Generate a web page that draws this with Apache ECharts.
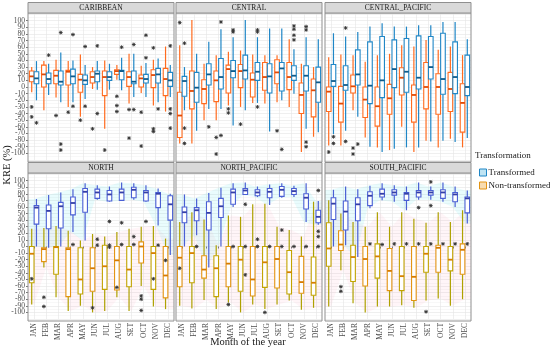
<!DOCTYPE html>
<html><head><meta charset="utf-8">
<script src="https://cdn.jsdelivr.net/npm/echarts@6/dist/echarts.min.js"></script>
<style>html,body{margin:0;padding:0;background:#fff}#c{width:550px;height:351px}</style>
</head><body><div id="c"></div>
<script>
const months = ['JAN','FEB','MAR','APR','MAY','JUN','JUL','AUG','SET','OCT','NOV','DEC'];
const panelNames = ['CARIBBEAN','CENTRAL','CENTRAL_PACIFIC','NORTH','NORTH_PACIFIC','SOUTH_PACIFIC'];
const yMin = -110, yMax = 110, yStep = 10;

// each month: [lower whisker, Q1, median, Q3, upper whisker]; outliers: [monthIndex, value]
const caribbeanNt = [[-8,8,16,24,30],[-35,0,19,33,39],[-16,5,17,25,41],[-30,3,23,25,39],[-45,-8,11,19,49],[-3,6,15,23,30],[-63,-13,15,24,40],[11,19,24,26,33],[-25,1,15,23,50],[-9,0,13,18,32],[-28,-1,18,26,41],[-37,-13,12,28,61]];
const caribbeanNtOut = [[0,-30],[0,-45],[2,-43],[3,-38],[4,-50],[5,-63],[6,-95],[7,-14],[7,-28],[7,-37],[8,-34],[8,-77],[9,-38],[9,-89],[10,59],[10,-63],[10,-67]];
const caribbeanTr = [[-20,5,13,23,39],[-12,5,12,21,35],[-23,3,8,24,52],[-23,5,16,27,40],[-18,4,10,18,33],[-4,8,20,24,39],[-4,10,15,23,35],[-5,11,24,25,44],[-15,5,8,24,50],[-15,6,12,19,36],[-23,6,19,28,43],[-15,1,10,22,33]];
const caribbeanTrOut = [[0,-54],[1,48],[2,82],[2,-86],[2,-95],[3,79],[3,-29],[4,61],[4,-29],[5,62],[5,-40],[7,60],[8,64],[8,-34],[9,78],[9,44],[10,-33],[11,62],[11,-33],[11,-40],[11,-62]];

const centralNt = [[-85,-76,-43,-8,63],[-85,-33,-6,24,101],[-50,-25,-3,11,35],[-50,-22,10,24,48],[-28,-9,27,33,53],[-30,-1,24,34,55],[-24,-15,11,21,49],[-25,-5,15,37,48],[-23,5,22,41,48],[-30,-4,15,37,72],[-98,-40,-12,6,35],[-75,-45,-5,12,30]];
const centralNtOut = [[0,97],[3,-76],[3,-101],[4,-33],[4,-39],[5,-56],[8,-66]];
const centralTr = [[-35,-14,9,16,30],[-66,-23,-1,22,50],[-33,3,19,35,68],[-33,-3,15,43,87],[-58,14,24,40,75],[-35,12,25,48,101],[-24,10,23,37,75],[-67,-9,16,35,88],[-20,-6,28,37,88],[-10,10,17,32,57],[-63,-6,17,32,75],[-68,-23,7,30,72]];
const centralTrOut = [[0,66],[0,-62],[0,-85],[2,-60],[3,98],[3,-73],[4,83],[4,86],[6,83],[6,86],[6,-30],[8,-94],[9,92],[9,87],[9,78],[9,71],[10,86],[10,91],[10,-83],[10,-90]];

const centralPacificNt = [[-88,-37,-7,0,45],[-88,-53,-25,1,49],[-35,-9,1,18,48],[-76,-46,-19,0,38],[-91,-59,-29,0,48],[-95,-41,-17,4,50],[-60,-12,14,29,63],[-98,-53,-12,3,61],[-81,-33,0,37,71],[-91,-41,0,20,56],[-78,-37,-3,22,61],[-91,-68,-24,5,48]];
const centralPacificNtOut = [[0,-98],[2,-92],[2,-101]];
const centralPacificTr = [[-71,1,9,34,81],[-66,-5,3,32,76],[-45,3,19,56,83],[-90,-25,2,68,91],[-98,-16,10,76,96],[-93,-1,27,71,91],[-91,-8,23,73,91],[-91,-3,14,77,93],[-82,12,30,76,93],[-81,-11,12,81,98],[-83,-10,15,68,98],[-77,-13,0,48,72]];
const centralPacificTrOut = [[0,-75],[0,-85],[1,89],[1,-82],[2,-86]];

const northNt = [[-88,-55,-11,0,27],[-32,-23,-4,-2,28],[-77,-42,-1,0,31],[-98,-76,-4,-2,24],[-90,-72,-50,-2,9],[-100,-68,-33,-2,19],[-98,-65,-30,2,15],[-77,-66,-21,0,22],[-98,-61,-35,0,27],[-60,-25,0,7,30],[-91,-65,-10,0,31],[-95,-78,-44,0,12]];
const northNtOut = [[0,-49],[1,-77],[1,-91],[5,-93],[7,-62],[9,-75],[9,-80],[9,-97],[10,-49],[11,-21]];
const northTr = [[0,34,59,62,72],[-2,27,54,63,78],[0,28,61,67,82],[22,48,66,75,87],[9,52,83,88,96],[71,73,82,87,93],[68,69,79,85,91],[69,70,82,87,97],[71,74,86,90,96],[68,69,82,85,93],[32,59,80,82,88],[-13,40,64,77,80]];
const northTrOut = [[3,3],[5,11],[5,2],[6,38],[6,2],[6,-1],[7,36],[7,3],[8,15],[8,3],[9,38],[10,2]];

const northPacificNt = [[-90,-61,-17,0,37],[-94,-55,-10,0,52],[-81,-48,-35,-14,41],[-95,-76,-33,-14,2],[-85,-61,-26,0,47],[-100,-68,-20,0,45],[-88,-75,-50,0,64],[-95,-62,-24,0,65],[-88,-63,-19,0,30],[-82,-72,-39,-6,25],[-96,-71,-54,-15,15],[-93,-74,-55,-16,68]];
const northPacificNtOut = [[0,-33],[4,-88],[7,-100]];
const northPacificTr = [[0,36,52,60,79],[17,39,55,59,73],[-32,25,51,68,81],[0,44,61,73,89],[60,64,82,87,96],[78,79,85,88,97],[75,77,82,86,91],[63,74,83,88,94],[74,76,86,91,96],[75,79,84,88,92],[37,57,74,80,96],[33,36,45,55,69]];
const northPacificTrOut = [[1,0],[4,0],[5,64],[5,0],[5,-43],[6,11],[6,0],[7,0],[8,25],[8,0],[9,0],[10,0],[11,85],[11,23],[11,15],[11,0]];

const southPacificNt = [[-91,-30,-3,36,70],[-36,-6,3,24,50],[-86,-53,-16,2,37],[-100,-60,-19,0,30],[-91,-48,-15,4,52],[-91,-67,-37,-3,30],[-89,-67,-45,0,52],[-93,-82,-46,0,42],[-82,-39,-11,0,36],[-79,-39,-2,2,52],[-90,-37,-20,0,37],[-80,-42,-5,4,55]];
const southPacificNtOut = [[1,-61],[1,-68],[8,-99]];
const southPacificTr = [[0,41,65,74,86],[2,25,53,69,91],[-16,39,64,74,87],[58,62,77,83,92],[70,75,80,87,96],[68,78,82,86,93],[55,70,80,82,91],[71,75,82,85,97],[71,78,82,85,91],[68,73,82,86,97],[60,68,79,82,91],[35,51,73,75,85]];
const southPacificTrOut = [[3,4],[4,3],[5,4],[6,4],[7,59],[7,4],[8,98],[8,62],[8,4],[9,4],[10,4],[11,4]];

const panelData = [
  [caribbeanTr, caribbeanNt, caribbeanTrOut, caribbeanNtOut],
  [centralTr, centralNt, centralTrOut, centralNtOut],
  [centralPacificTr, centralPacificNt, centralPacificTrOut, centralPacificNtOut],
  [northTr, northNt, northTrOut, northNtOut],
  [northPacificTr, northPacificNt, northPacificTrOut, northPacificNtOut],
  [southPacificTr, southPacificNt, southPacificTrOut, southPacificNtOut]
];
const ntParity = [0,0,0,0,1,0];

const F = "'Liberation Serif','DejaVu Serif',serif";
const PX = [28, 176, 325], PW = 146;
const RT = [14, 174], RH = [146, 145];

const TOP_TR = {stroke:'#1f86c6', med:'#0d5b8c'};
const TOP_NT = {stroke:'#ff6b1f', med:'#e24a05'};
const BOT_TR = {stroke:'#4a5fd4', med:'#343fa8'};
const BOT_NT_A = {stroke:'#c2a300', med:'#d68000', whisk:'#aea100'};
const BOT_NT_B = {stroke:'#e39312', med:'#d67a00', whisk:'#aea100'};

function boxRenderer(side, palFn) {
  return function (params, api) {
    const i = api.value(0);
    const band = api.size([1, 0])[0];
    const cx = api.coord([i, 0])[0] + side * band * 0.195;
    const w = band * 0.38;
    const y = k => api.coord([i, api.value(k)])[1];
    const pal = palFn(i);
    const wc = pal.whisk || pal.stroke;
    return {type:'group', children:[
      {type:'line', shape:{x1:cx,y1:y(1),x2:cx,y2:y(2)}, style:{stroke:wc, lineWidth:1.2}},
      {type:'line', shape:{x1:cx,y1:y(4),x2:cx,y2:y(5)}, style:{stroke:wc, lineWidth:1.2}},
      {type:'rect', shape:{x:cx-w/2, y:y(4), width:w, height:y(2)-y(4)}, style:{fill:'#fff', stroke:pal.stroke, lineWidth:1.1}},
      {type:'line', shape:{x1:cx-w/2,y1:y(3),x2:cx+w/2,y2:y(3)}, style:{stroke:pal.med, lineWidth:1.8}}
    ]};
  };
}
function outRenderer(side) {
  return function (params, api) {
    const i = api.value(0);
    const band = api.size([1, 0])[0];
    const p = api.coord([i, api.value(1)]);
    const cx = p[0] + side * band * 0.195, cy = p[1], r = 1.9, d = r * 0.72;
    const st = {stroke:'#333', lineWidth:0.9};
    return {type:'group', children:[
      {type:'line', shape:{x1:cx-r,y1:cy,x2:cx+r,y2:cy}, style:st},
      {type:'line', shape:{x1:cx,y1:cy-r,x2:cx,y2:cy+r}, style:st},
      {type:'line', shape:{x1:cx-d,y1:cy-d,x2:cx+d,y2:cy+d}, style:st},
      {type:'line', shape:{x1:cx-d,y1:cy+d,x2:cx+d,y2:cy-d}, style:st}
    ]};
  };
}
function ribbonRenderer(stats, fill) {
  return function (params, api) {
    const band = api.size([1, 0])[0];
    const up = [], lo = [];
    stats.forEach((s, i) => {
      up.push(api.coord([i, s[4]]));
      lo.push(api.coord([i, s[0]]));
    });
    const n = stats.length;
    const pts = [[up[0][0]-band/2, up[0][1]]].concat(up, [[up[n-1][0]+band/2, up[n-1][1]], [lo[n-1][0]+band/2, lo[n-1][1]]], lo.slice().reverse(), [[lo[0][0]-band/2, lo[0][1]]]);
    return {type:'polygon', shape:{points:pts}, style:{fill:fill}};
  };
}

const grids = [], xAxes = [], yAxes = [], series = [], graphics = [];
for (let p = 0; p < 6; p++) {
  const col = p % 3, row = Math.floor(p / 3);
  const left = PX[col], top = RT[row], h = RH[row];
  grids.push({left:left, top:top, width:PW, height:h, containLabel:false});
  xAxes.push({type:'category', gridIndex:p, data:months, boundaryGap:true,
    axisLine:{show:false},
    axisTick:{show:row===1, length:2, alignWithLabel:true, lineStyle:{color:'#555', width:0.8}},
    axisLabel:{show:row===1, rotate:90, interval:0, fontSize:7.5, fontFamily:F, color:'#4d4d4d', margin:4},
    splitLine:{show:true, alignWithLabel:true, lineStyle:{color:'#e4e4e4', width:0.6}}});
  yAxes.push({type:'value', gridIndex:p, min:yMin, max:yMax, interval:yStep,
    axisLine:{show:false},
    axisTick:{show:col===0, length:2, lineStyle:{color:'#555', width:0.8}},
    axisLabel:{show:col===0, fontSize:7.5, fontFamily:F, color:'#4d4d4d', margin:3},
    splitLine:{lineStyle:{color:'#e4e4e4', width:0.6}},
    minorTick:{show:false, splitNumber:2},
    minorSplitLine:{show:true, lineStyle:{color:'#f1f1f1', width:0.5}}});
  const [tr, nt, trOut, ntOut] = panelData[p];
  const bottom = row === 1;
  if (bottom) {
    series.push({type:'custom', xAxisIndex:p, yAxisIndex:p, silent:true, clip:true, data:[[0,0]],
      renderItem: ribbonRenderer(nt, 'rgba(255,120,160,0.07)'), z:1});
    series.push({type:'custom', xAxisIndex:p, yAxisIndex:p, silent:true, clip:true, data:[[0,0]],
      renderItem: ribbonRenderer(tr, 'rgba(40,225,235,0.10)'), z:1});
  }
  const trPal = bottom ? () => BOT_TR : () => TOP_TR;
  const ntPal = bottom ? (i => ((i + ntParity[p]) % 2 === 0 ? BOT_NT_A : BOT_NT_B)) : () => TOP_NT;
  series.push({type:'custom', name:'Non-transformed', xAxisIndex:p, yAxisIndex:p, z:3,
    data: nt.map((s, i) => [i].concat(s)), encode:{x:0, y:[1,2,3,4,5]},
    renderItem: boxRenderer(-1, ntPal), itemStyle:{color:'#f8dcb0'}});
  series.push({type:'custom', name:'Transformed', xAxisIndex:p, yAxisIndex:p, z:3,
    data: tr.map((s, i) => [i].concat(s)), encode:{x:0, y:[1,2,3,4,5]},
    renderItem: boxRenderer(1, trPal), itemStyle:{color:'#bfe4f3'}});
  series.push({type:'custom', xAxisIndex:p, yAxisIndex:p, z:4, data: ntOut, encode:{x:0, y:1},
    renderItem: outRenderer(-1)});
  series.push({type:'custom', xAxisIndex:p, yAxisIndex:p, z:4, data: trOut, encode:{x:0, y:1},
    renderItem: outRenderer(1)});
  graphics.push({type:'rect', silent:true, z:50, shape:{x:left, y:top-1, width:PW, height:h+3},
    style:{fill:null, stroke:'#8f8f8f', lineWidth:1}});
  graphics.push({type:'rect', silent:true, z:50, shape:{x:left, y:top-11.5, width:PW, height:10.5},
    style:{fill:'#d9d9d9', stroke:'#8f8f8f', lineWidth:1}});
  graphics.push({type:'text', silent:true, z:51, x:left+PW/2, y:top-6.2,
    style:{text:panelNames[p], font:'7.5px ' + F, fill:'#1a1a1a', textAlign:'center', textVerticalAlign:'middle'}});
}
graphics.push({type:'text', silent:true, x:248, y:342,
  style:{text:'Month of the year', font:'10.5px ' + F, fill:'#1a1a1a', textAlign:'center', textVerticalAlign:'middle'}});
graphics.push({type:'text', silent:true, x:7, y:165, rotation:Math.PI/2,
  style:{text:'KRE (%)', font:'10.5px ' + F, fill:'#1a1a1a', textAlign:'center', textVerticalAlign:'middle'}});
graphics.push({type:'text', silent:true, x:475, y:156,
  style:{text:'Transformation', font:'9px ' + F, fill:'#1a1a1a', textAlign:'left', textVerticalAlign:'middle'}});

const chart = echarts.init(document.getElementById('c'), null, {renderer:'canvas'});
chart.setOption({
  animation:false,
  backgroundColor:'#fff',
  grid:grids, xAxis:xAxes, yAxis:yAxes, series:series, graphic:graphics,
  legend:{orient:'vertical', left:474, top:163, itemWidth:7, itemHeight:7, itemGap:4, icon:'rect',
    textStyle:{fontSize:9, fontFamily:F, color:'#1a1a1a', padding:[0,0,0,-3]},
    data:[
      {name:'Transformed', itemStyle:{color:'#bfe4f3', borderColor:'#1f86c6', borderWidth:1}},
      {name:'Non-transformed', itemStyle:{color:'#f8dcb0', borderColor:'#e39312', borderWidth:1}}
    ]}
});
</script></body></html>
